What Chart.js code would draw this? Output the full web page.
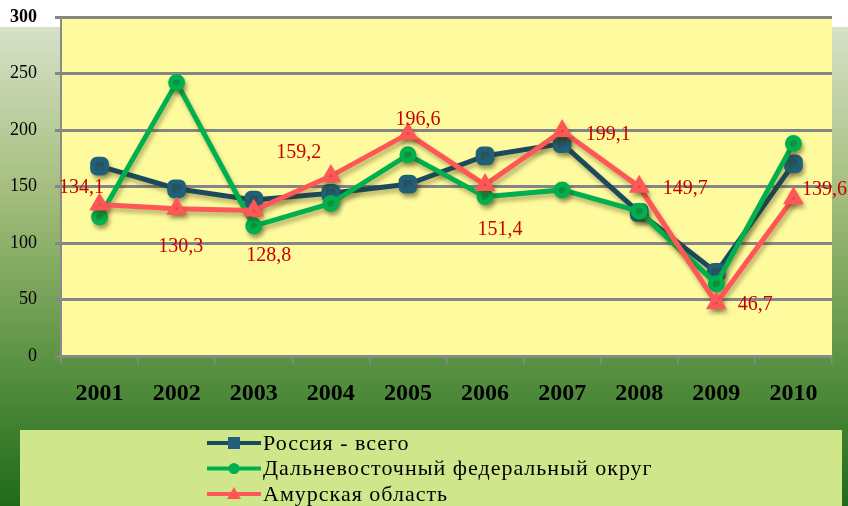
<!DOCTYPE html>
<html>
<head>
<meta charset="utf-8">
<script src="https://cdn.jsdelivr.net/npm/chart.js@4.4.0/dist/chart.umd.min.js"></script>
<style>
  html, body { margin: 0; padding: 0; background: #fff; }
  #wrap { width: 848px; height: 506px; }
</style>
</head>
<body>
<div id="wrap"><canvas id="chart" width="848" height="506"></canvas></div>
<script>
const years = ['2001', '2002', '2003', '2004', '2005', '2006', '2007', '2008', '2009', '2010'];
const russia = [168, 148, 138, 144, 152, 177, 188, 127, 74, 170];
const farEast = [123, 242, 115, 135, 178, 141, 147, 128, 64, 188];
const amur = [134.1, 130.3, 128.8, 159.2, 196.6, 151.4, 199.1, 149.7, 46.7, 139.6];
const seriesNames = ['Россия - всего', 'Дальневосточный федеральный округ', 'Амурская область'];

// where each value label sits relative to its point
const labelShift = [[-18, -17], [4, 38], [15, 45], [-32, -23], [10, -14], [15, 45], [46, 4], [46, 2], [39, 2], [31, -9]];

const serif = "'Liberation Serif', 'Times New Roman', serif";

const background = {
  id: 'background',
  beforeDraw(chart) {
    const ctx = chart.ctx;
    const a = chart.chartArea;
    ctx.save();
    ctx.fillStyle = '#ffffff';
    ctx.fillRect(0, 0, chart.width, chart.height);
    const g = ctx.createLinearGradient(0, 27, 0, chart.height);
    g.addColorStop(0, '#d7e1c8');
    g.addColorStop(0.35, '#a3bd7c');
    g.addColorStop(0.7, '#5a9243');
    g.addColorStop(1, '#1f6a19');
    ctx.fillStyle = g;
    ctx.fillRect(0, 27, chart.width, chart.height - 27);
    ctx.fillStyle = '#d0e68b';
    ctx.fillRect(20, 430, 822, chart.height - 430);
    ctx.fillStyle = '#fefb9e';
    ctx.fillRect(a.left, a.top, a.right - a.left, a.bottom - a.top);
    ctx.restore();
  }
};

const shadows = {
  id: 'shadows',
  beforeDatasetsDraw(chart) {
    const ctx = chart.ctx;
    ctx.save();
    ctx.shadowColor = 'rgba(60, 50, 0, 0.35)';
    ctx.shadowBlur = 4;
    ctx.shadowOffsetX = 2;
    ctx.shadowOffsetY = 4;
  },
  afterDatasetsDraw(chart) {
    chart.ctx.restore();
  }
};

const valueLabels = {
  id: 'valueLabels',
  afterDatasetsDraw(chart) {
    const ctx = chart.ctx;
    const meta = chart.getDatasetMeta(0);
    ctx.save();
    ctx.font = '20px ' + serif;
    ctx.fillStyle = '#c80000';
    ctx.textAlign = 'center';
    ctx.textBaseline = 'middle';
    meta.data.forEach(function (pt, i) {
      const txt = amur[i].toFixed(1).replace('.', ',');
      ctx.fillText(txt, pt.x + labelShift[i][0], pt.y + labelShift[i][1]);
    });
    ctx.restore();
  }
};

const legendBox = {
  id: 'legendBox',
  afterDraw(chart) {
    const ctx = chart.ctx;
    const order = [2, 1, 0];
    ctx.save();
    order.forEach(function (di, row) {
      const ds = chart.data.datasets[di];
      const y = 443 + row * 25.5;
      ctx.strokeStyle = ds.borderColor;
      ctx.lineWidth = 4;
      ctx.beginPath();
      ctx.moveTo(207, y);
      ctx.lineTo(261, y);
      ctx.stroke();
      ctx.fillStyle = ds.pointBackgroundColor;
      ctx.beginPath();
      if (ds.pointStyle === 'circle') {
        ctx.arc(234, y, 5.5, 0, Math.PI * 2);
      } else if (ds.pointStyle === 'triangle') {
        ctx.moveTo(234, y - 7);
        ctx.lineTo(241, y + 5);
        ctx.lineTo(227, y + 5);
        ctx.closePath();
      } else {
        ctx.rect(228, y - 6, 12, 12);
      }
      ctx.fill();
      ctx.fillStyle = '#000';
      ctx.font = '22px ' + serif;
      ctx.letterSpacing = '1px';
      ctx.textBaseline = 'middle';
      ctx.fillText(ds.label, 263, y + 1);
      ctx.letterSpacing = '0px';
    });
    ctx.restore();
  }
};

new Chart(document.getElementById('chart'), {
  type: 'line',
  plugins: [background, shadows, valueLabels, legendBox],
  data: {
    labels: years,
    datasets: [
      {
        label: seriesNames[2],
        data: amur,
        order: 1,
        borderColor: '#ff5757',
        backgroundColor: '#ff5757',
        pointBackgroundColor: '#ff5757',
        pointBorderColor: '#ff5757',
        pointStyle: 'triangle',
        pointRadius: 7,
        borderWidth: 5
      },
      {
        label: seriesNames[1],
        data: farEast,
        order: 2,
        borderColor: '#00b04f',
        backgroundColor: '#00b04f',
        pointBackgroundColor: '#00b04f',
        pointBorderColor: '#00b04f',
        pointStyle: 'circle',
        pointRadius: 6,
        borderWidth: 5
      },
      {
        label: seriesNames[0],
        data: russia,
        order: 3,
        borderColor: '#1b4a5e',
        backgroundColor: '#225f78',
        pointBackgroundColor: '#225f78',
        pointBorderColor: '#225f78',
        pointStyle: 'rectRounded',
        pointRadius: 8,
        borderWidth: 5
      }
    ]
  },
  options: {
    responsive: false,
    animation: false,
    layout: { padding: { top: 17, right: 16, left: 0, bottom: 0 } },
    plugins: {
      legend: { display: false },
      tooltip: { enabled: false }
    },
    scales: {
      x: {
        offset: true,
        afterFit(scale) {
          scale.height = 150;
          scale.paddingLeft = 0;
          scale.paddingRight = 0;
        },
        border: { color: '#8a8a8a', width: 2 },
        grid: { offset: true, drawOnChartArea: false, color: '#8a8a8a', tickLength: 8, lineWidth: 1.5 },
        ticks: {
          color: '#000',
          padding: 15,
          maxRotation: 0,
          font: { family: serif, size: 24, weight: 'bold' }
        }
      },
      y: {
        min: 0,
        max: 300,
        afterFit(scale) {
          scale.width = 61;
          scale.paddingTop = 0;
          scale.paddingBottom = 0;
        },
        border: { color: '#8a8a8a', width: 2 },
        grid: { color: '#858585', lineWidth: 3, tickLength: 6 },
        ticks: {
          stepSize: 50,
          color: '#000',
          padding: 18,
          font: function (c) {
            return { family: serif, size: 18, weight: c.tick && c.tick.value === 300 ? 'bold' : 'normal' };
          }
        }
      }
    }
  }
});
</script>
</body>
</html>
